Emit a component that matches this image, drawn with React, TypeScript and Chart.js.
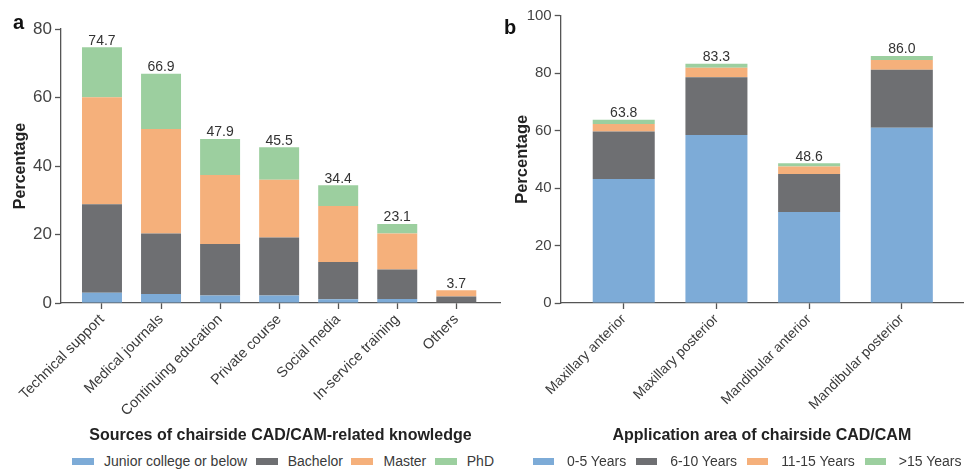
import React, { useEffect, useRef } from "react";
import { Chart, registerables } from "chart.js";

Chart.register(...registerables);

const FONT = "'Liberation Sans', Arial, Helvetica, sans-serif";

// Panel a: sources of chairside CAD/CAM-related knowledge, stacked by education level
const sourceCategories = [
  "Technical support",
  "Medical journals",
  "Continuing education",
  "Private course",
  "Social media",
  "In-service training",
  "Others",
];
const juniorCollege = [3.0, 2.6, 2.2, 2.2, 1.1, 1.2, 0];
const bachelor = [25.8, 17.7, 15.0, 16.9, 10.9, 8.6, 1.9];
const master = [31.3, 30.5, 20.2, 16.9, 16.3, 10.5, 1.8];
const phd = [14.6, 16.1, 10.5, 9.5, 6.1, 2.8, 0];
const sourceTicks = [0, 20, 40, 60, 80];

// Panel b: application area of chairside CAD/CAM, stacked by years of experience
const areaCategories = [
  "Maxillary anterior",
  "Maxillary posterior",
  "Mandibular anterior",
  "Mandibular posterior",
];
const years0to5 = [43.2, 58.5, 31.7, 61.0];
const years6to10 = [16.5, 20.1, 13.2, 20.2];
const years11to15 = [2.6, 3.3, 2.6, 3.4];
const yearsOver15 = [1.5, 1.4, 1.1, 1.4];
const areaTicks = [0, 20, 40, 60, 80, 100];

const BLUE = "#7dabd7";
const GREY = "#6e6f72";
const ORANGE = "#f5b07b";
const GREEN = "#9ccf9f";
const AXIS = "#555555";

type Series = { label: string; values: number[]; color: string };

const sourceSeries: Series[] = [
  { label: "Junior college or below", values: juniorCollege, color: BLUE },
  { label: "Bachelor", values: bachelor, color: GREY },
  { label: "Master", values: master, color: ORANGE },
  { label: "PhD", values: phd, color: GREEN },
];

const areaSeries: Series[] = [
  { label: "0-5 Years", values: years0to5, color: BLUE },
  { label: "6-10 Years", values: years6to10, color: GREY },
  { label: "11-15 Years", values: years11to15, color: ORANGE },
  { label: ">15 Years", values: yearsOver15, color: GREEN },
];

// Writes the stack total above every bar
const stackTotals = {
  id: "stackTotals",
  afterDatasetsDraw(chart: any) {
    const { ctx } = chart;
    const xs = chart.scales.x;
    const ys = chart.scales.y;
    const n = chart.data.datasets[0].data.length;
    ctx.save();
    ctx.font = `14px ${FONT}`;
    ctx.fillStyle = "#333333";
    ctx.textAlign = "center";
    ctx.textBaseline = "bottom";
    for (let i = 0; i < n; i++) {
      let total = 0;
      chart.data.datasets.forEach((ds: any) => {
        total += ds.data[i].y;
      });
      ctx.fillText(total.toFixed(1), xs.getPixelForValue(i), ys.getPixelForValue(total) + 0.5);
    }
    ctx.restore();
  },
};

type PanelSpec = {
  categories: string[];
  series: Series[];
  yMax: number;
  yTicks: number[];
  xTitle: string;
  xMin: number;
  xMax: number;
  barRatio: number;
  yAxisWidth: number;
  xAxisHeight: number;
  yTitlePad: number;
  yTitleSize: number;
  yTickSize: number;
  xTickSize: number;
  padding: { top: number; right: number; bottom: number; left: number };
};

function buildConfig(p: PanelSpec): any {
  return {
    type: "bar",
    data: {
      datasets: p.series.map((s) => ({
        label: s.label,
        data: s.values.map((v, i) => ({ x: i, y: v })),
        backgroundColor: s.color,
        borderWidth: 0,
        categoryPercentage: 1,
        barPercentage: p.barRatio,
      })),
    },
    options: {
      responsive: false,
      animation: false,
      layout: { padding: p.padding },
      plugins: { legend: { display: false }, tooltip: { enabled: false } },
      scales: {
        x: {
          type: "linear",
          stacked: true,
          offset: false,
          min: p.xMin,
          max: p.xMax,
          afterBuildTicks: (s: any) => {
            s.ticks = p.categories.map((_, i) => ({ value: i }));
          },
          afterFit: (s: any) => {
            s.height = p.xAxisHeight;
          },
          ticks: {
            autoSkip: false,
            maxRotation: 45,
            minRotation: 45,
            padding: 2,
            color: "#3a3a3a",
            font: { size: p.xTickSize, family: FONT },
            callback: (v: number) => p.categories[v],
          },
          grid: {
            offset: false,
            drawOnChartArea: false,
            drawTicks: true,
            tickLength: 6,
            tickColor: AXIS,
            tickWidth: 1.3,
          },
          border: { color: AXIS, width: 1.3 },
          title: {
            display: true,
            text: p.xTitle,
            color: "#222222",
            font: { size: 16, weight: "bold", family: FONT },
            padding: { top: 0, bottom: 0 },
          },
        },
        y: {
          stacked: true,
          min: 0,
          max: p.yMax,
          afterBuildTicks: (s: any) => {
            s.ticks = p.yTicks.map((v) => ({ value: v }));
          },
          afterFit: (s: any) => {
            s.width = p.yAxisWidth;
          },
          ticks: {
            padding: 3,
            color: "#444444",
            font: { size: p.yTickSize, family: FONT },
          },
          grid: {
            drawOnChartArea: false,
            drawTicks: true,
            tickLength: 6,
            tickColor: AXIS,
            tickWidth: 1.3,
          },
          border: { color: AXIS, width: 1.3 },
          title: {
            display: true,
            text: "Percentage",
            color: "#222222",
            font: { size: p.yTitleSize, weight: "bold", family: FONT },
            padding: { top: p.yTitlePad, bottom: 0 },
          },
        },
      },
    },
    plugins: [stackTotals],
  };
}

function BarPanel({ spec, left, width, height }: { spec: PanelSpec; left: number; width: number; height: number }) {
  const ref = useRef<HTMLCanvasElement>(null);
  useEffect(() => {
    if (!ref.current) return;
    const chart = new Chart(ref.current, buildConfig(spec));
    return () => chart.destroy();
  }, [spec]);
  return (
    <canvas
      ref={ref}
      width={width}
      height={height}
      style={{ position: "absolute", left, top: 0, width, height }}
    />
  );
}

function Legend({
  series,
  left,
  boxWidth,
  boxTextGap,
  itemGap,
}: {
  series: Series[];
  left: number;
  boxWidth: number;
  boxTextGap: number;
  itemGap: number;
}) {
  return (
    <div
      style={{
        position: "absolute",
        left,
        top: 453,
        height: 16,
        display: "flex",
        alignItems: "center",
        whiteSpace: "nowrap",
        fontFamily: FONT,
        fontSize: 14,
        lineHeight: "16px",
        color: "#3a3a3a",
      }}
    >
      {series.map((s, i) => (
        <div key={s.label} style={{ display: "flex", alignItems: "center", marginRight: i < series.length - 1 ? itemGap : 0 }}>
          <span style={{ display: "inline-block", width: boxWidth, height: 7, background: s.color, marginRight: boxTextGap }} />
          <span>{s.label}</span>
        </div>
      ))}
    </div>
  );
}

const panelA: PanelSpec = {
  categories: sourceCategories,
  series: sourceSeries,
  yMax: 80,
  yTicks: sourceTicks,
  xTitle: "Sources of chairside CAD/CAM-related knowledge",
  xMin: -0.694,
  xMax: 6.74,
  barRatio: 0.677,
  yAxisWidth: 61,
  xAxisHeight: 142,
  yTitlePad: 11,
  yTitleSize: 16,
  yTickSize: 17,
  xTickSize: 14.5,
  padding: { top: 29, right: 5, bottom: 0, left: 0 },
};

const panelB: PanelSpec = {
  categories: areaCategories,
  series: areaSeries,
  yMax: 100,
  yTicks: areaTicks,
  xTitle: "Application area of chairside CAD/CAM",
  xMin: -0.68,
  xMax: 3.66,
  barRatio: 0.669,
  yAxisWidth: 70.7,
  xAxisHeight: 142,
  yTitlePad: 22.4,
  yTitleSize: 16.5,
  yTickSize: 15,
  xTickSize: 14,
  padding: { top: 15.7, right: 14, bottom: 0, left: 0 },
};

export default function App() {
  return (
    <div
      style={{
        position: "fixed",
        left: 0,
        top: 0,
        width: 977,
        height: 469,
        overflow: "hidden",
        background: "#ffffff",
        fontFamily: FONT,
      }}
    >
      <BarPanel spec={panelA} left={0} width={505} height={445} />
      <BarPanel spec={panelB} left={490} width={487} height={445} />
      <span style={{ position: "absolute", left: 13, top: 11, fontSize: 20, fontWeight: "bold", color: "#111" }}>a</span>
      <span style={{ position: "absolute", left: 504, top: 16, fontSize: 20, fontWeight: "bold", color: "#111" }}>b</span>
      <Legend series={sourceSeries} left={72} boxWidth={22} boxTextGap={10} itemGap={8.5} />
      <Legend series={areaSeries} left={533} boxWidth={21} boxTextGap={13} itemGap={10} />
    </div>
  );
}
